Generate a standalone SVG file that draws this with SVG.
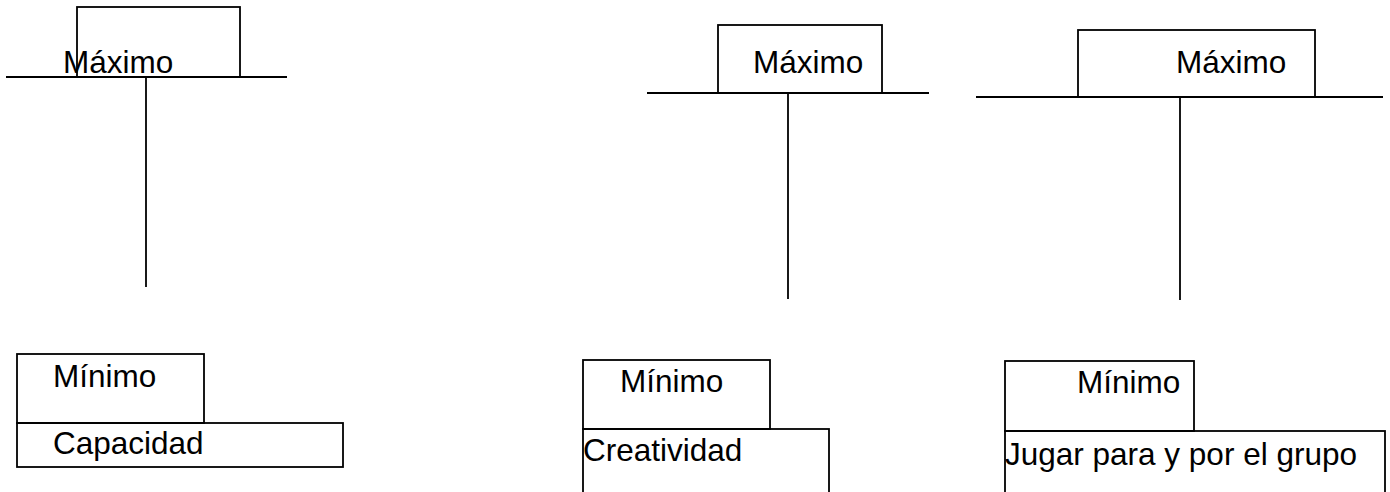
<svg xmlns="http://www.w3.org/2000/svg" width="1390" height="492" viewBox="0 0 1390 492">
<style>
.b{fill:none;stroke:#000;stroke-width:1.8}
.l{stroke:#000;stroke-width:1.8;fill:none}
text{font-family:"Liberation Sans",Arial,sans-serif;font-size:31.5px;fill:#000}
</style>
<rect width="1390" height="492" fill="#fff"/>
<g id="max1"><rect class="b" x="77" y="7" width="163" height="70"/><text x="63" y="73">Máximo</text></g>
<g id="max2"><rect class="b" x="718" y="25" width="164" height="68"/><text x="753" y="73">Máximo</text></g>
<g id="max3"><rect class="b" x="1078" y="30" width="237" height="67"/><text x="1176" y="73">Máximo</text></g>
<g id="min1"><rect class="b" x="17" y="354" width="187" height="69"/><text x="53" y="387">Mínimo</text></g>
<g id="cap"><rect class="b" x="17" y="423" width="326" height="44"/><text x="53" y="454">Capacidad</text></g>
<g id="min2"><rect class="b" x="583" y="360" width="187" height="69"/><text x="620" y="392">Mínimo</text></g>
<g id="cre"><rect class="b" x="583" y="429" width="246" height="80"/><text x="583" y="461">Creatividad</text></g>
<g id="min3"><rect class="b" x="1005" y="361" width="189" height="70"/><text x="1077" y="393">Mínimo</text></g>
<g id="jug"><rect class="b" x="1005" y="431" width="380" height="80"/><text x="1005" y="465">Jugar para y por el grupo</text></g>
<g id="connectors">
<line class="l" x1="6" y1="77" x2="287" y2="77"/>
<line class="l" x1="146" y1="77" x2="146" y2="287"/>
<line class="l" x1="647" y1="93" x2="929" y2="93"/>
<line class="l" x1="788" y1="93" x2="788" y2="299"/>
<line class="l" x1="976" y1="97" x2="1383" y2="97"/>
<line class="l" x1="1180" y1="97" x2="1180" y2="300"/>
</g>
</svg>
